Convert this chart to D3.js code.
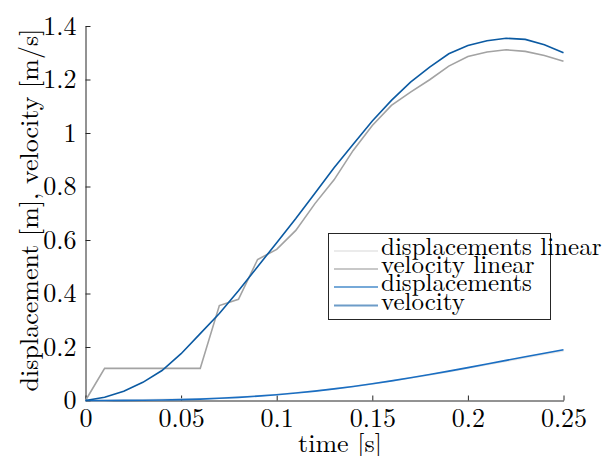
<!DOCTYPE html>
<html>
<head>
  <meta charset="utf-8">
  <script src="https://d3js.org/d3.v7.min.js"></script>
  <style>
    body { margin: 0; background: #fff; }
  </style>
</head>
<body>
  <svg width="616" height="456"></svg>

  <script>
    // values
    const time = [0, 0.01, 0.02, 0.03, 0.04, 0.05, 0.06, 0.07, 0.08, 0.09, 0.10, 0.11, 0.12,
      0.13, 0.14, 0.15, 0.16, 0.17, 0.18, 0.19, 0.20, 0.21, 0.22, 0.23, 0.24, 0.25];
    const displacementLinear = [0, 0.0006, 0.0018, 0.003, 0.0042, 0.0054, 0.0066, 0.009, 0.0127,
      0.0172, 0.0227, 0.0287, 0.0356, 0.0435, 0.0523, 0.0621, 0.0727, 0.084, 0.0957, 0.1078,
      0.1205, 0.1334, 0.1465, 0.1596, 0.1726, 0.1854];
    const velocityLinear = [0, 0.12, 0.12, 0.12, 0.12, 0.12, 0.12, 0.355, 0.378, 0.527, 0.565,
      0.636, 0.736, 0.825, 0.935, 1.028, 1.103, 1.153, 1.199, 1.25, 1.286, 1.303, 1.311, 1.305,
      1.29, 1.268];
    const displacement = [0, 0.0001, 0.0003, 0.0008, 0.0017, 0.0032, 0.0053, 0.0082, 0.0118,
      0.0163, 0.0217, 0.028, 0.0352, 0.0434, 0.0526, 0.0626, 0.0734, 0.085, 0.0972, 0.1099,
      0.123, 0.1364, 0.1499, 0.1634, 0.1768, 0.19];
    const velocity = [0, 0.012, 0.035, 0.068, 0.112, 0.175, 0.25, 0.325, 0.41, 0.5, 0.59,
      0.68, 0.775, 0.87, 0.958, 1.045, 1.122, 1.19, 1.246, 1.296, 1.327, 1.345, 1.354, 1.35,
      1.33, 1.3];
    const xTicks = [0, 0.05, 0.1, 0.15, 0.2, 0.25];
    const yTicks = [0, 0.2, 0.4, 0.6, 0.8, 1, 1.2, 1.4];

    const series = [
      { name: "displacements linear", values: displacementLinear, color: "#e8e8e8", key: "#ebebeb" },
      { name: "velocity linear", values: velocityLinear, color: "#a3a3a3", key: "#c8c8c8" },
      { name: "displacements", values: displacement, color: "#1a6ec2", key: "#76a9d8" },
      { name: "velocity", values: velocity, color: "#0b5aa2", key: "#6d9cc8" }
    ];

    const serif = '"Latin Modern Roman"';

    const svg = d3.select("svg");
    const x = d3.scaleLinear().domain([0, 0.25]).range([85.5, 563.5]);
    const y = d3.scaleLinear().domain([0, 1.4]).range([400.5, 26]);
    const fmt = d3.format("~g");

    const xAxis = svg.append("g")
      .attr("transform", "translate(0,400.5)")
      .call(d3.axisBottom(x).tickValues(xTicks).tickFormat(fmt)
        .tickSize(-5).tickSizeOuter(0).tickPadding(8));
    const yAxis = svg.append("g")
      .attr("transform", "translate(85.5,0)")
      .call(d3.axisLeft(y).tickValues(yTicks).tickFormat(fmt)
        .tickSize(-5).tickSizeOuter(0).tickPadding(9));

    [xAxis, yAxis].forEach(a => {
      a.attr("font-family", null).attr("font-size", null);
      a.selectAll("path, line").attr("stroke", "#262626");
      a.selectAll("text")
        .style("font-family", serif)
        .style("font-size", "26px")
        .attr("fill", "#000");
    });

    const line = vals => d3.line()
      .x((d, i) => x(time[i]))
      .y(d => y(d))(vals);

    svg.append("g").selectAll("path")
      .data(series)
      .join("path")
      .attr("d", d => line(d.values))
      .attr("fill", "none")
      .attr("stroke", d => d.color)
      .attr("stroke-width", 1.6);

    // axis labels
    svg.append("text")
      .attr("x", 340).attr("y", 452)
      .attr("text-anchor", "middle")
      .style("font-family", serif)
      .style("font-size", "26px")
      .text("time [s]");
    svg.append("text")
      .attr("transform", "translate(38,210) rotate(-90)")
      .attr("text-anchor", "middle")
      .style("font-family", serif)
      .style("font-size", "26px")
      .text("displacement [m], velocity [m/s]");

    // legend (text overflows its box like the original)
    const legend = svg.append("g");
    legend.append("rect")
      .attr("x", 328.5).attr("y", 233.5)
      .attr("width", 222).attr("height", 86)
      .attr("fill", "#fff").attr("stroke", "#262626");
    const rowY = [251, 269, 287, 305.5];
    series.forEach((s, i) => {
      legend.append("line")
        .attr("x1", 334).attr("x2", 378)
        .attr("y1", rowY[i]).attr("y2", rowY[i])
        .attr("stroke", s.key).attr("stroke-width", 2);
      legend.append("text")
        .attr("x", 381).attr("y", rowY[i] + 4)
        .style("font-family", serif)
        .style("font-size", "25px")
        .text(s.name);
    });
  </script>
</body>
</html>
